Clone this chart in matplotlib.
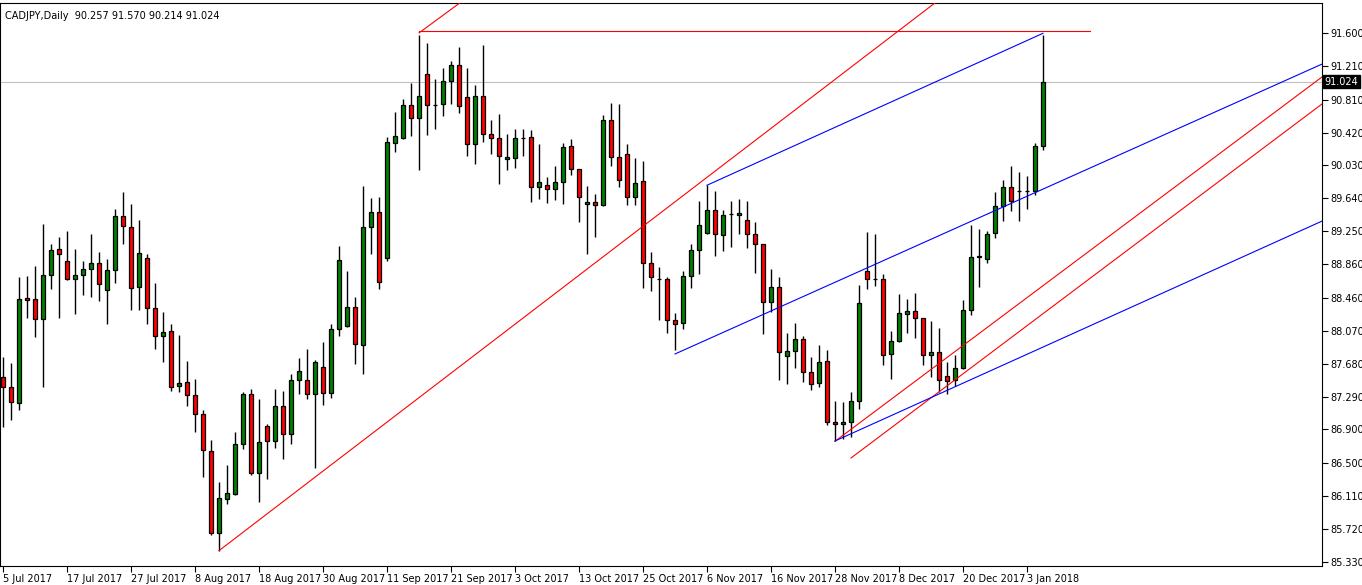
import numpy as np
import matplotlib.pyplot as plt
import matplotlib.transforms as mtransforms

# header
symbol = 'CADJPY,Daily'
last_ohlc = ['90.257', '91.570', '90.214', '91.024']

# daily candles, 5 Jul 2017 .. 5 Jan 2018
opens = [87.526, 87.400, 87.211, 88.455, 88.443, 88.206, 88.728, 89.036, 88.894, 88.681,
         88.728, 88.799, 88.870, 88.550, 88.787, 89.427, 89.297, 88.586, 88.929, 88.337,
         88.005, 88.064, 87.412, 87.460, 87.306, 87.080, 86.642, 85.670, 86.073, 86.139,
         86.725, 87.321, 86.381, 86.938, 86.760, 87.175, 86.843, 87.483, 87.483, 87.317,
         87.637, 87.329, 88.088, 88.123, 88.349, 87.900, 89.304, 89.475, 88.937, 90.293,
         90.352, 90.743, 90.589, 91.110, 90.750, 90.755, 91.027, 91.217, 90.838, 90.281,
         90.850, 90.399, 90.352, 90.103, 90.115, 90.359, 90.364, 89.771, 89.795, 89.747,
         89.830, 90.257, 89.984, 89.569, 89.593, 89.558, 90.565, 90.127, 90.162, 89.652,
         89.842, 88.870, 88.688, 88.681, 88.195, 88.159, 88.716, 89.024, 89.226, 89.498,
         89.202, 89.451, 89.439, 89.380, 89.214, 89.095, 88.408, 88.586, 87.768, 87.827,
         87.969, 87.578, 87.448, 87.709, 86.986, 86.962, 86.986, 87.234, 88.775, 88.684,
         88.681, 87.792, 87.946, 88.266, 88.301, 88.218, 87.780, 87.815, 87.531, 87.483,
         87.626, 88.313, 88.941, 88.918, 89.226, 89.546, 89.771, 89.724, 89.724, 89.724,
         90.257]
highs = [87.763, 87.688, 88.708, 88.716, 88.838, 89.336, 89.099, 89.182, 89.253, 89.040,
         88.897, 89.217, 89.004, 88.921, 89.514, 89.715, 89.573, 89.383, 88.977, 88.637,
         88.293, 88.147, 88.017, 87.712, 87.499, 87.131, 86.776, 86.278, 86.479, 86.871,
         87.348, 87.380, 87.262, 86.962, 87.380, 87.357, 87.558, 87.744, 87.851, 87.718,
         87.937, 88.151, 89.072, 88.779, 88.467, 89.786, 89.644, 89.656, 90.367, 90.664,
         90.818, 91.007, 91.576, 91.481, 91.051, 91.181, 91.264, 91.434, 91.181, 90.980,
         91.458, 90.565, 90.636, 90.399, 90.462, 90.458, 90.447, 90.284, 89.890, 90.023,
         90.296, 90.340, 89.990, 89.783, 89.688, 90.628, 90.770, 90.758, 90.284, 90.115,
         90.083, 89.000, 88.823, 88.704, 88.277, 88.775, 89.095, 89.605, 89.795, 89.724,
         89.498, 89.605, 89.629, 89.605, 89.356, 89.100, 88.803, 88.704, 88.040, 88.159,
         88.005, 87.756, 87.898, 87.839, 87.234, 87.223, 87.341, 88.609, 89.238, 89.217,
         88.740, 88.064, 88.506, 88.443, 88.515, 88.225, 88.183, 88.100, 87.697, 87.780,
         88.432, 89.321, 89.273, 89.249, 89.712, 89.854, 90.020, 89.949, 89.901, 90.293,
         91.570]
lows = [86.926, 87.016, 87.135, 88.225, 88.000, 87.407, 88.569, 88.225, 88.675, 88.273,
        88.494, 88.474, 88.427, 88.154, 88.640, 89.102, 88.320, 88.320, 88.154, 87.858,
        87.704, 87.353, 87.350, 87.182, 86.874, 86.334, 85.650, 85.464, 86.021, 86.127,
        86.665, 86.357, 86.044, 86.317, 86.684, 86.554, 86.732, 87.315, 87.265, 86.438,
        87.185, 87.277, 88.012, 88.115, 87.680, 87.560, 88.984, 88.562, 88.901, 90.193,
        90.345, 90.383, 89.980, 90.394, 90.465, 90.620, 90.755, 90.655, 90.138, 90.051,
        90.311, 90.169, 89.814, 89.980, 90.003, 90.142, 89.600, 89.636, 89.588, 89.624,
        89.577, 89.913, 89.363, 88.984, 89.185, 89.546, 90.020, 89.778, 89.558, 89.558,
        88.581, 88.538, 88.202, 88.048, 87.842, 88.088, 88.581, 88.740, 89.220, 88.960,
        89.019, 89.067, 89.221, 89.055, 88.759, 88.036, 88.289, 87.490, 87.443, 87.633,
        87.460, 87.372, 87.400, 86.950, 86.760, 86.784, 86.808, 87.147, 88.562, 88.605,
        87.661, 87.495, 87.940, 88.040, 87.981, 87.661, 87.519, 87.341, 87.317, 87.412,
        87.620, 88.254, 88.586, 88.870, 89.166, 89.368, 89.487, 89.368, 89.510, 89.676,
        90.214]
closes = [87.400, 87.223, 88.443, 88.432, 88.206, 88.728, 89.024, 88.977, 88.681, 88.728,
          88.799, 88.870, 88.621, 88.787, 89.427, 89.309, 88.574, 88.989, 88.337, 88.005,
          88.052, 87.400, 87.448, 87.306, 87.080, 86.654, 85.670, 86.085, 86.144, 86.725,
          87.321, 86.381, 86.748, 86.760, 87.175, 86.843, 87.483, 87.590, 87.317, 87.697,
          87.329, 88.088, 88.906, 88.349, 87.910, 89.297, 89.475, 88.645, 90.304, 90.375,
          90.743, 90.589, 90.850, 90.743, 90.750, 91.027, 91.217, 90.731, 90.281, 90.850,
          90.399, 90.352, 90.146, 90.127, 90.352, 90.359, 89.771, 89.830, 89.747, 89.830,
          90.245, 89.984, 89.652, 89.593, 89.558, 90.565, 90.127, 89.854, 89.652, 89.818,
          88.870, 88.704, 88.688, 88.195, 88.147, 88.716, 89.024, 89.321, 89.498, 89.214,
          89.439, 89.451, 89.463, 89.214, 89.095, 88.415, 88.586, 87.815, 87.827, 87.969,
          87.578, 87.436, 87.697, 86.986, 86.962, 86.986, 87.234, 88.396, 88.681, 88.684,
          87.780, 87.953, 88.277, 88.301, 88.218, 87.780, 87.815, 87.483, 87.471, 87.626,
          88.313, 88.941, 88.953, 89.214, 89.546, 89.771, 89.605, 89.724, 89.724, 90.257,
          91.024]

date_labels = ['5 Jul 2017', '17 Jul 2017', '27 Jul 2017', '8 Aug 2017', '18 Aug 2017',
               '30 Aug 2017', '11 Sep 2017', '21 Sep 2017', '3 Oct 2017', '13 Oct 2017',
               '25 Oct 2017', '6 Nov 2017', '16 Nov 2017', '28 Nov 2017', '8 Dec 2017',
               '20 Dec 2017', '3 Jan 2018']
price_labels = ['91.600', '91.210', '90.810', '90.420', '90.030', '89.640', '89.250',
                '88.860', '88.460', '88.070', '87.680', '87.290', '86.900', '86.500',
                '86.110', '85.720', '85.330']
last_price = 91.024

# drawn objects: (bar0, price0, bar1, price1)
red_lines = [(27, 85.464, 116.5, 91.956),
             (52, 91.600, 57.1, 91.956),
             (52, 91.625, 135.9, 91.625),
             (104, 86.760, 164.9, 91.080),
             (106, 86.562, 164.9, 90.760)]
blue_lines = [(88, 89.795, 130, 91.596),
              (84, 87.795, 164.9, 91.232),
              (104, 86.764, 164.9, 89.371)]

n = len(opens)
x = np.arange(n)
o = np.array(opens)
c = np.array(closes)
up = c >= o

fig = plt.figure(figsize=(13.62, 5.85), dpi=100)
ax = fig.add_axes([0.0, 19 / 585, 1322 / 1362, 563 / 585])

ax.axhline(last_price, color='#c0c0c0', lw=0.8, zorder=0)

# wicks then bodies
ax.vlines(x, lows, highs, color='black', lw=1.0, zorder=2)
ax.bar(x, np.abs(c - o), bottom=np.minimum(o, c), width=0.6,
       color=np.where(up, '#008000', '#ff0000'), edgecolor='black', linewidth=0.9, zorder=3)

for b0, p0, b1, p1 in red_lines:
    ax.plot([b0, b1], [p0, p1], color='#ff0000', lw=0.8, zorder=4)
for b0, p0, b1, p1 in blue_lines:
    ax.plot([b0, b1], [p0, p1], color='#0000ff', lw=0.8, zorder=4)

ax.set_xlim(-0.375, 164.875)
ax.set_ylim(85.282, 91.955)

ax.yaxis.tick_right()
ax.set_yticks([float(v) for v in price_labels])
ax.set_yticklabels(price_labels)
ax.set_xticks(x[::8])
ax.set_xticklabels(date_labels, ha='left')
ax.tick_params(axis='y', direction='out', length=4, width=0.8, labelsize=7, pad=2)
ax.tick_params(axis='x', direction='out', length=4, width=0.8, labelsize=7, pad=2)
for s in ax.spines.values():
    s.set_linewidth(0.8)
    s.set_color('black')

trans = mtransforms.blended_transform_factory(ax.transAxes, ax.transData)
ax.text(1.002, last_price, '91.024', transform=trans, ha='left', va='center',
        fontsize=7, color='white', clip_on=False,
        bbox=dict(facecolor='black', edgecolor='black', pad=1.2))

ax.text(0.004, 0.985, symbol + '  ' + ' '.join(last_ohlc), transform=ax.transAxes,
        ha='left', va='top', fontsize=7)

plt.savefig('out.png', dpi=100)
